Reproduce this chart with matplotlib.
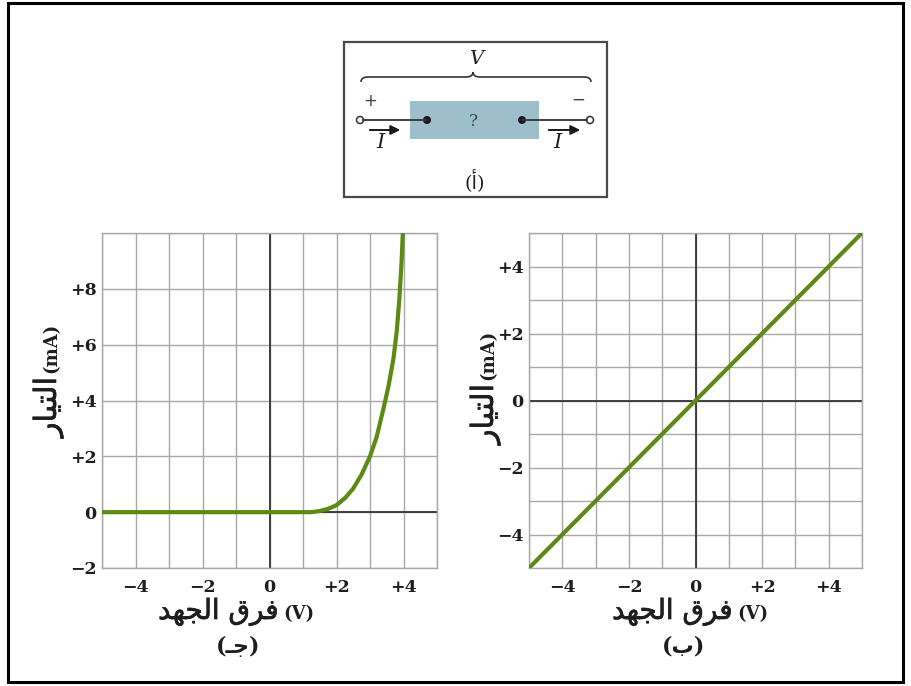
import matplotlib
matplotlib.use("Agg")
import matplotlib.pyplot as plt
import matplotlib.patheffects as pe
from matplotlib.patches import Rectangle, Circle, FancyArrowPatch, PathPatch
from matplotlib.path import Path

# ---- data ----
# (ج) diode-like element: current (mA) vs voltage (V)
diode_v = [-5.0, 0.0, 1.0, 1.25, 1.5, 1.75, 2.0, 2.25, 2.5, 2.75, 3.0, 3.2,
           3.4, 3.55, 3.7, 3.8, 3.88, 3.94, 3.98]
diode_i = [0.0, 0.0, 0.0, 0.0, 0.04, 0.12, 0.25, 0.5, 0.85, 1.35, 2.0, 2.7,
           3.7, 4.5, 5.5, 6.5, 7.7, 8.9, 10.0]

# (ب) ohmic element: current (mA) vs voltage (V)
ohm_v = [-5, -4, -3, -2, -1, 0, 1, 2, 3, 4, 5]
ohm_i = [-5, -4, -3, -2, -1, 0, 1, 2, 3, 4, 5]

x_ticks = [-4, -2, 0, 2, 4]
x_tick_labels = ["\u22124", "\u22122", "0", "+2", "+4"]
diode_y_ticks = [-2, 0, 2, 4, 6, 8]
diode_y_labels = ["\u22122", "0", "+2", "+4", "+6", "+8"]
ohm_y_ticks = [-4, -2, 0, 2, 4]
ohm_y_labels = ["\u22124", "\u22122", "0", "+2", "+4"]

# Arabic strings in presentation forms, laid out left to right
voltage_ar = "\uFEAA\uFEEC\uFEA0\uFEDF\uFE8D \uFED5\uFEAE\uFED3"
voltage_unit = "(V)"
current_ar = "\uFEAD\uFE8E\uFEF4\uFE98\uFEDF\uFE8D"
current_unit = "(mA)"
label_a = "(\uFE83)"
label_b = "(\uFE8F)"
label_c = "(\u0640\uFE9F)"

CURVE = "#5c8a12"
GRID = "#a8a8a8"
AXIS = "#333333"
TEXT = "#1e1e1e"
SERIF = ["DejaVu Serif", "DejaVu Sans"]
THICK = [pe.withStroke(linewidth=0.5, foreground=TEXT)]

W, H = 911, 686
fig = plt.figure(figsize=(W / 100, H / 100), dpi=100)
fig.patch.set_facecolor("white")


def style_axes(ax, ylim, ygrid, yticks, ylabels):
    ax.set_xlim(-5, 5)
    ax.set_ylim(*ylim)
    for v in range(-5, 6):
        ax.axvline(v, color=GRID, lw=1.0, zorder=1)
    for v in ygrid:
        ax.axhline(v, color=GRID, lw=1.0, zorder=1)
    ax.axvline(0, color=AXIS, lw=1.3, zorder=2)
    ax.axhline(0, color=AXIS, lw=1.3, zorder=2)
    for s in ax.spines.values():
        s.set_color(GRID)
        s.set_linewidth(1.0)
    ax.set_xticks(x_ticks)
    ax.set_xticklabels(x_tick_labels)
    ax.set_yticks(yticks)
    ax.set_yticklabels(ylabels)
    ax.tick_params(axis="x", length=0, pad=8, labelsize=12.5, colors=TEXT)
    ax.tick_params(axis="y", length=0, pad=4, labelsize=12.5, colors=TEXT)
    for t in ax.get_xticklabels() + ax.get_yticklabels():
        t.set_fontfamily(SERIF)
        t.set_fontweight("bold")


# left panel (ج)
ax1 = fig.add_axes([102 / W, 1 - 568 / H, 335 / W, 335 / H])
style_axes(ax1, (-2, 10), range(-2, 11, 2), diode_y_ticks, diode_y_labels)
ax1.plot(diode_v, diode_i, color=CURVE, lw=3.0, solid_capstyle="butt", zorder=3)

# right panel (ب)
ax2 = fig.add_axes([529 / W, 1 - 568 / H, 333 / W, 335 / H])
style_axes(ax2, (-5, 5), range(-5, 6), ohm_y_ticks, ohm_y_labels)
ax2.plot(ohm_v, ohm_i, color=CURVE, lw=3.0, solid_capstyle="butt", zorder=3)

# overlay in pixel coordinates for the frame, the sketch and the captions
ov = fig.add_axes([0, 0, 1, 1], zorder=10)
ov.set_xlim(0, W)
ov.set_ylim(H, 0)
ov.axis("off")
ov.patch.set_alpha(0)

ov.add_patch(Rectangle((8, 3), 895, 679, fill=False, ec="black", lw=2.2))

# voltage axis titles and panel captions
for split_x, cap_x, cap in [(279, 238, label_c), (733, 684, label_b)]:
    ov.text(split_x, 619, voltage_ar, family="DejaVu Sans", fontsize=20,
            color=TEXT, ha="right", va="baseline", path_effects=THICK)
    ov.text(split_x + 4, 619, voltage_unit, family="DejaVu Serif", fontsize=13,
            fontweight="bold", color=TEXT, ha="left", va="baseline")
    ov.text(cap_x, 647, cap, family=SERIF, fontsize=16, fontweight="bold",
            color=TEXT, ha="center", va="center")

# current axis titles (rotated, sharing one baseline)
for base_x, split_y in [(56, 377), (493, 384)]:
    ov.text(base_x, split_y, current_ar, family="DejaVu Sans", fontsize=22,
            color=TEXT, ha="right", va="baseline", rotation=90,
            rotation_mode="anchor", path_effects=THICK)
    ov.text(base_x, split_y - 4, current_unit, family="DejaVu Serif",
            fontsize=13, fontweight="bold", color=TEXT, ha="left",
            va="baseline", rotation=90, rotation_mode="anchor")

# element sketch (أ)
ov.add_patch(Rectangle((344, 42), 263, 155, fill=False, ec="#4a4a4a", lw=1.6))
ov.add_patch(Rectangle((410, 101), 129, 38, fc="#9dbfcc", ec="none"))

brace = Path(
    [(361, 82), (361, 77), (368, 77),
     (466, 77), (473, 77), (473, 72),
     (473, 77), (480, 77),
     (584, 77), (591, 77), (591, 82)],
    [Path.MOVETO, Path.CURVE3, Path.CURVE3,
     Path.LINETO, Path.CURVE3, Path.CURVE3,
     Path.CURVE3, Path.CURVE3,
     Path.LINETO, Path.CURVE3, Path.CURVE3],
)
ov.add_patch(PathPatch(brace, fill=False, ec="#333333", lw=1.2))
ov.text(476, 59, "V", family="DejaVu Serif", style="italic", fontsize=14,
        color=TEXT, ha="center", va="center")

ov.plot([363, 427], [120, 120], color="#333333", lw=1.3)
ov.plot([522, 587], [120, 120], color="#333333", lw=1.3)
ov.add_patch(Circle((360, 120), 3.5, fc="white", ec="#333333", lw=1.1))
ov.add_patch(Circle((590, 120), 3.5, fc="white", ec="#333333", lw=1.1))
ov.add_patch(Circle((427, 120), 4, fc="#1a1a1a", ec="none"))
ov.add_patch(Circle((522, 120), 4, fc="#1a1a1a", ec="none"))
ov.text(473, 121, "?", family="DejaVu Serif", fontsize=12, color="#444444",
        ha="center", va="center")
ov.text(370, 101, "+", family="DejaVu Sans", fontsize=12, color="#444444",
        ha="center", va="center")
ov.text(578, 100, "\u2212", family="DejaVu Sans", fontsize=12, color="#444444",
        ha="center", va="center")

for x0, x1 in [(367, 403), (546, 583)]:
    ov.add_patch(FancyArrowPatch((x0, 130), (x1, 130), arrowstyle="-|>",
                                 mutation_scale=14, color="#1a1a1a", lw=1.4))
ov.text(380, 143, "I", family="DejaVu Serif", style="italic", fontsize=15,
        color=TEXT, ha="center", va="center")
ov.text(557, 143, "I", family="DejaVu Serif", style="italic", fontsize=15,
        color=TEXT, ha="center", va="center")
ov.text(475, 181, label_a, family=SERIF, fontsize=14, color=TEXT,
        ha="center", va="center")

fig.savefig("out.png", dpi=100, facecolor="white")
